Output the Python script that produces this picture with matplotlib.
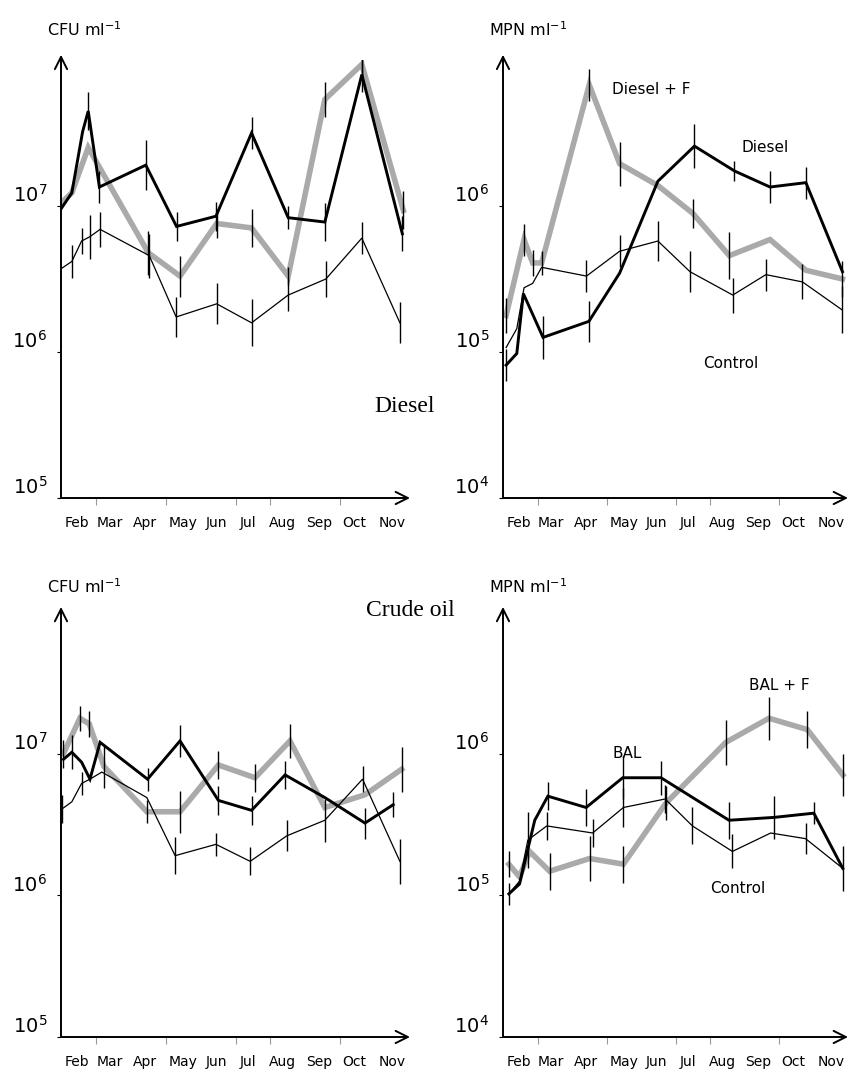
"""Bacterial counts in diesel / crude oil microcosms, four panels"""

import matplotlib
matplotlib.use("Agg")
import matplotlib.pyplot as plt
import numpy as np

months = ["Feb", "Mar", "Apr", "May", "Jun", "Jul", "Aug", "Sep", "Oct", "Nov"]
month_pos = [0.45, 1.4, 2.4, 3.5, 4.45, 5.35, 6.35, 7.4, 8.4, 9.5]
bound_ticks = [1, 3, 5, 6, 8]

# time in months since 1 Feb, values as log10 counts, err = half bar in decades
# --- Diesel, CFU
dcfu_f_t = [0, 0.31, 0.78, 2.50, 3.41, 4.46, 5.46, 6.51, 7.56, 8.62, 9.81]
dcfu_f_v = [7.02, 7.09, 7.40, 6.68, 6.52, 6.88, 6.85, 6.52, 7.73, 7.97, 6.97]
dcfu_f_e = [0, 0, 0, 0.15, 0.14, 0.10, 0.13, 0.06, 0.12, 0.09, 0.13]

dcfu_t = [0, 0.31, 0.62, 0.78, 1.10, 2.43, 3.31, 4.44, 5.46, 6.51, 7.56, 8.62, 9.78]
dcfu_v = [6.98, 7.09, 7.51, 7.65, 7.13, 7.28, 6.86, 6.93, 7.50, 6.92, 6.89, 7.90, 6.81]
dcfu_e = [0, 0, 0, 0.13, 0.11, 0.17, 0.10, 0.10, 0.11, 0.08, 0.13, 0.12, 0.12]

dcfu_c_t = [0, 0.31, 0.59, 0.83, 1.12, 2.53, 3.30, 4.46, 5.46, 6.51, 7.59, 8.62, 9.71]
dcfu_c_v = [6.57, 6.62, 6.76, 6.79, 6.84, 6.66, 6.24, 6.33, 6.20, 6.39, 6.50, 6.78, 6.20]
dcfu_c_e = [0, 0.11, 0.09, 0.15, 0.12, 0.15, 0.14, 0.14, 0.16, 0.11, 0.12, 0.11, 0.14]

# --- Diesel, MPN
dmpn_f_t = [0.09, 0.61, 0.86, 1.12, 2.50, 3.38, 4.49, 5.50, 6.56, 7.74, 8.78, 9.84]
dmpn_f_v = [5.25, 5.77, 5.61, 5.61, 6.83, 6.29, 6.14, 5.95, 5.66, 5.77, 5.56, 5.50]
dmpn_f_e = [0.12, 0.11, 0.09, 0.08, 0.11, 0.15, 0, 0.10, 0.16, 0, 0, 0.12]

dmpn_t = [0.09, 0.40, 0.59, 1.16, 2.49, 3.38, 4.49, 5.55, 6.71, 7.74, 8.78, 9.84]
dmpn_v = [4.91, 4.99, 5.40, 5.10, 5.21, 5.54, 6.17, 6.41, 6.24, 6.13, 6.16, 5.55]
dmpn_e = [0.11, 0, 0, 0.15, 0.14, 0, 0, 0.15, 0.07, 0.11, 0.11, 0]

dmpn_c_t = [0.09, 0.40, 0.61, 0.86, 1.12, 2.42, 3.38, 4.49, 5.42, 6.66, 7.62, 8.68, 9.82]
dmpn_c_v = [5.03, 5.16, 5.44, 5.47, 5.58, 5.52, 5.69, 5.76, 5.55, 5.39, 5.53, 5.48, 5.29]
dmpn_c_e = [0, 0, 0, 0, 0, 0.11, 0.11, 0.14, 0.14, 0.12, 0.11, 0.12, 0.16]

# --- Crude oil, CFU
ccfu_f_t = [0.07, 0.54, 0.81, 1.23, 2.46, 3.41, 4.51, 5.56, 6.56, 7.56, 8.71, 9.76]
ccfu_f_v = [7.00, 7.25, 7.21, 6.91, 6.59, 6.59, 6.92, 6.83, 7.09, 6.62, 6.71, 6.89]
ccfu_f_e = [0.10, 0.09, 0.09, 0.15, 0.08, 0.15, 0.10, 0.10, 0.12, 0, 0, 0.16]

ccfu_t = [0.07, 0.31, 0.59, 0.83, 1.12, 2.48, 3.41, 4.51, 5.46, 6.42, 7.56, 8.71, 9.52]
ccfu_v = [6.96, 7.01, 6.94, 6.82, 7.08, 6.82, 7.09, 6.67, 6.60, 6.85, 6.69, 6.51, 6.64]
ccfu_e = [0, 0.12, 0, 0, 0, 0.08, 0.11, 0.10, 0.10, 0.10, 0, 0.11, 0.09]

ccfu_c_t = [0.03, 0.31, 0.59, 0.83, 1.17, 2.46, 3.27, 4.44, 5.42, 6.47, 7.56, 8.64, 9.71]
ccfu_c_v = [6.61, 6.66, 6.79, 6.82, 6.87, 6.69, 6.28, 6.36, 6.24, 6.42, 6.53, 6.82, 6.24]
ccfu_c_e = [0.10, 0, 0.08, 0, 0, 0, 0.13, 0.08, 0.10, 0.11, 0.15, 0.09, 0.16]

# --- Crude oil, MPN
cmpn_f_t = [0.17, 0.48, 0.77, 1.35, 2.51, 3.49, 4.72, 6.46, 7.71, 8.82, 9.85]
cmpn_f_v = [5.22, 5.13, 5.31, 5.17, 5.26, 5.22, 5.65, 6.08, 6.25, 6.17, 5.85]
cmpn_f_e = [0.09, 0, 0, 0.13, 0.16, 0.13, 0.12, 0.16, 0.15, 0.13, 0.15]

cmpn_t = [0.17, 0.48, 0.92, 1.30, 2.41, 3.47, 4.58, 6.55, 7.85, 9.01, 9.85]
cmpn_v = [5.01, 5.08, 5.53, 5.70, 5.62, 5.83, 5.83, 5.53, 5.55, 5.58, 5.19]
cmpn_e = [0.08, 0, 0, 0.10, 0.13, 0.15, 0.12, 0.13, 0.15, 0.08, 0.16]

cmpn_c_t = [0.17, 0.48, 0.72, 1.27, 2.60, 3.49, 4.70, 5.49, 6.65, 7.76, 8.77, 9.85]
cmpn_c_v = [5.01, 5.10, 5.39, 5.49, 5.44, 5.62, 5.68, 5.49, 5.31, 5.44, 5.40, 5.19]
cmpn_c_e = [0, 0, 0.20, 0.10, 0.10, 0.14, 0.10, 0.13, 0.12, 0, 0.11, 0]

GREY = "#aaaaaa"
STYLES = [dict(color=GREY, lw=4.0, zorder=2),       # + F
          dict(color="black", lw=2.1, zorder=3),    # oil only
          dict(color="black", lw=0.9, zorder=3)]    # control

W, H = 852, 1086


def draw_panel(ax, series, ylo, ylabel, label_xy):
    for (t, v, e), st in zip(series, STYLES):
        t, v, e = np.array(t), np.array(v), np.array(e)
        ax.plot(t, 10 ** v, solid_joinstyle="miter", **st)
        m = e > 0
        ax.vlines(t[m], 10 ** (v[m] - e[m]), 10 ** (v[m] + e[m]),
                  color="black", lw=1.0, zorder=4)

    ax.set_yscale("log")
    ax.set_ylim(10 ** ylo, 10 ** (ylo + 3))
    ax.set_xlim(0, 10)
    for s in ax.spines.values():
        s.set_visible(False)
    ax.annotate("", xy=(1.0, 0), xytext=(0, 0), xycoords="axes fraction",
                arrowprops=dict(arrowstyle="->", lw=1.4, mutation_scale=22,
                                shrinkA=0, shrinkB=0))
    ax.annotate("", xy=(0, 1.012), xytext=(0, 0), xycoords="axes fraction",
                arrowprops=dict(arrowstyle="->", lw=1.4, mutation_scale=22,
                                shrinkA=0, shrinkB=0))

    yt = [10 ** ylo, 10 ** (ylo + 1), 10 ** (ylo + 2)]
    ax.set_yticks(yt)
    ax.set_yticklabels([r"$10^{%d}$" % (ylo + i) for i in range(3)])
    ax.yaxis.set_minor_locator(matplotlib.ticker.NullLocator())
    ax.tick_params(axis="y", length=3, width=0.8, pad=7, labelsize=14)
    for lab in ax.get_yticklabels():
        lab.set_va("bottom")

    ax.set_xticks(month_pos)
    ax.set_xticklabels(months)
    ax.set_xticks(bound_ticks, minor=True)
    ax.tick_params(axis="x", which="major", length=0, pad=13, labelsize=10)
    ax.tick_params(axis="x", which="minor", length=5, width=0.8, color="#999999")

    fig.text(label_xy[0] / W, 1 - label_xy[1] / H, ylabel, fontsize=11.5,
             ha="left", va="center")


fig = plt.figure(figsize=(8.52, 10.86), dpi=100)

ax_tl = fig.add_axes([61 / W, 1 - 498 / H, 349 / W, 438 / H])
ax_tr = fig.add_axes([503 / W, 1 - 498 / H, 345 / W, 438 / H])
ax_bl = fig.add_axes([61 / W, 1 - 1037 / H, 349 / W, 425 / H])
ax_br = fig.add_axes([503 / W, 1 - 1037 / H, 345 / W, 425 / H])

draw_panel(ax_tl, [(dcfu_f_t, dcfu_f_v, dcfu_f_e), (dcfu_t, dcfu_v, dcfu_e),
                   (dcfu_c_t, dcfu_c_v, dcfu_c_e)], 5, r"CFU ml$^{-1}$", (47, 30))
draw_panel(ax_tr, [(dmpn_f_t, dmpn_f_v, dmpn_f_e), (dmpn_t, dmpn_v, dmpn_e),
                   (dmpn_c_t, dmpn_c_v, dmpn_c_e)], 4, r"MPN ml$^{-1}$", (489, 30))
draw_panel(ax_bl, [(ccfu_f_t, ccfu_f_v, ccfu_f_e), (ccfu_t, ccfu_v, ccfu_e),
                   (ccfu_c_t, ccfu_c_v, ccfu_c_e)], 5, r"CFU ml$^{-1}$", (47, 587))
draw_panel(ax_br, [(cmpn_f_t, cmpn_f_v, cmpn_f_e), (cmpn_t, cmpn_v, cmpn_e),
                   (cmpn_c_t, cmpn_c_v, cmpn_c_e)], 4, r"MPN ml$^{-1}$", (489, 587))

# series labels inside right panels
ax_tr.text(4.3, 10 ** 6.8, "Diesel + F", fontsize=11, ha="center", va="center")
ax_tr.text(7.6, 10 ** 6.40, "Diesel", fontsize=11, ha="center", va="center")
ax_tr.text(6.6, 10 ** 4.92, "Control", fontsize=11, ha="center", va="center")
ax_br.text(8.0, 10 ** 6.48, "BAL + F", fontsize=11, ha="center", va="center")
ax_br.text(3.6, 10 ** 6.0, "BAL", fontsize=11, ha="center", va="center")
ax_br.text(6.8, 10 ** 5.05, "Control", fontsize=11, ha="center", va="center")

fig.text(405 / W, 1 - 406 / H, "Diesel", fontsize=17, family="Liberation Serif",
         ha="center", va="center")
fig.text(410 / W, 1 - 611 / H, "Crude oil", fontsize=17, family="Liberation Serif",
         ha="center", va="center")

fig.savefig("out.png", dpi=100)
